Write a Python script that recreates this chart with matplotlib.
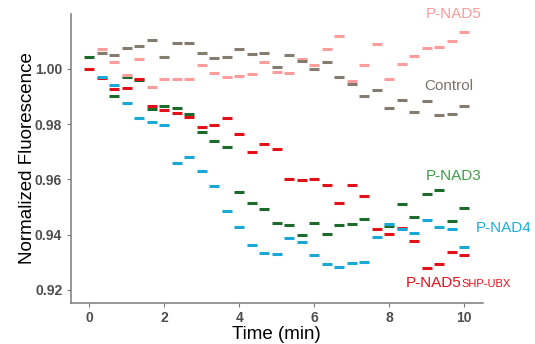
import numpy as np
import matplotlib
matplotlib.use("Agg")
import matplotlib.pyplot as plt

plt.rcParams['font.family'] = ['Liberation Sans', 'DejaVu Sans']

nan = np.nan
time_min = np.linspace(0, 10, 31)

# normalized fluorescence (nan = hidden behind other marks)
p_nad5 = [nan, 1.0071, 1.0026, 0.9977, 1.0036, 0.9936, 0.9963, 0.9963, 0.9963, 1.0013, 0.9986,
          0.9972, 0.9976, 0.9981, 1.0027, 0.9990, 0.9984, 1.0037, 1.0014, 1.0071, 1.0121,
          0.9955, 1.0014, 1.0092, 0.9965, 1.0019, 1.0047, 1.0075, 1.0080, 1.0103, 1.0133]
control = [nan, 1.0058, 1.0052, 1.0075, 1.0083, 1.0106, 1.0045, 1.0093, 1.0095, 1.0058, 1.0040,
           1.0045, 1.0074, 1.0054, 1.0058, 1.0007, 1.0052, 1.0029, 0.9999, 1.0025, 0.9972,
           0.9944, 0.9903, 0.9924, 0.9857, 0.9886, 0.9844, 0.9883, 0.9832, 0.9836, 0.9864]
p_nad3 = [1.0042, nan, 0.9903, 0.9971, 0.9960, 0.9855, 0.9864, 0.9860, 0.9836, 0.9770, 0.9740,
          0.9719, 0.9554, 0.9516, 0.9493, 0.9443, 0.9436, 0.9399, 0.9443, 0.9403, 0.9436,
          0.9438, 0.9455, nan, 0.9432, 0.9509, 0.9465, 0.9547, 0.9563, 0.9449, 0.9498]
p_nad4 = [nan, 0.9971, 0.9941, 0.9878, 0.9824, 0.9808, 0.9797, 0.9661, 0.9682, 0.9629, 0.9576,
          0.9486, 0.9426, 0.9362, 0.9333, 0.9330, 0.9389, 0.9374, 0.9325, 0.9292, 0.9284,
          0.9296, 0.9301, 0.9392, 0.9438, 0.9419, 0.9405, 0.9452, 0.9426, 0.9420, 0.9356]
p_nad5_shp = [1.0000, 0.9966, 0.9929, 0.9930, 0.9963, 0.9866, 0.9853, 0.9842, 0.9827, 0.9791, 0.9797,
              0.9821, 0.9764, 0.9700, 0.9729, 0.9709, 0.9600, 0.9597, 0.9603, 0.9580, 0.9513,
              0.9580, 0.9540, 0.9421, 0.9402, 0.9425, 0.9377, 0.9278, 0.9295, 0.9337, 0.9327]

yticks = [0.92, 0.94, 0.96, 0.98, 1.00]
xticks = [0, 2, 4, 6, 8, 10]

# drawing order: first is underneath
series = [
    (p_nad3, "#1d6b2c"),
    (p_nad5_shp, "#e3101a"),
    (p_nad4, "#1aa9d6"),
    (p_nad5, "#ff9c9c"),
    (control, "#857c70"),
]

fig = plt.figure(figsize=(5.35, 3.44), dpi=100)
ax = fig.add_axes([0.1318, 0.120, 0.771, 0.8392])

for vals, col in series:
    ax.plot(time_min, vals, linestyle="none", marker="_", markersize=6.6,
            markeredgewidth=2.2, color=col)

ax.set_xlim(-0.5, 10.5)
ax.set_ylim(0.9153, 1.0199)
ax.set_xticks(xticks)
ax.set_yticks(yticks)
ax.set_yticklabels(["%.2f" % v for v in yticks])

for s in ["top", "right"]:
    ax.spines[s].set_visible(False)
for s in ["left", "bottom"]:
    ax.spines[s].set_color("#7a7a7a")
    ax.spines[s].set_linewidth(1.1)
ax.tick_params(axis="both", colors="#7a7a7a", length=3, width=0.8, labelsize=10,
               labelcolor="#4d4d4d", pad=3)
for lab in ax.get_xticklabels() + ax.get_yticklabels():
    lab.set_fontweight("bold")

ax.set_xlabel("Time (min)", fontsize=13.5, labelpad=1)
ax.set_ylabel("Normalized Fluorescence", fontsize=13.5, labelpad=-1)

ax.text(9.71, 1.0199, "P-NAD5", color="#ff9999", fontsize=11, ha="center", va="center")
ax.text(9.6, 0.99384, "Control", color="#7a736b", fontsize=11, ha="center", va="center")
ax.text(9.72, 0.96134, "P-NAD3", color="#3c9e47", fontsize=11, ha="center", va="center")
ax.text(10.32, 0.94228, "P-NAD4", color="#1aaee0", fontsize=11, ha="left", va="center")
t1 = ax.text(8.45, 0.9209, "P-NAD5", color="#e3101a", fontsize=11, ha="left", va="baseline")
ax.annotate("SHP-UBX", xy=(1, 0), xycoords=t1, xytext=(0, 1), textcoords="offset points",
            color="#e3101a", fontsize=8, ha="left", va="bottom")

fig.savefig("out.png", dpi=100)
